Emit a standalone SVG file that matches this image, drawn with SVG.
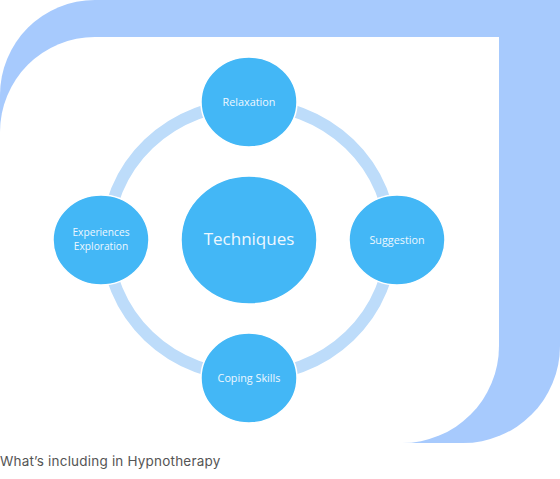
<svg xmlns="http://www.w3.org/2000/svg" width="560" height="479" viewBox="0 0 560 479">
<style>
.node{fill:#43b7f6;stroke:#ffffff;stroke-width:1.5}
.lbl{font-family:"Open Sans","Noto Sans",sans-serif;fill:#eef7ff;text-anchor:middle}
.s{font-size:10.8px}
.ring{fill:none;stroke:#bddcfa;stroke-width:12}
</style>
<g id="background">
<path d="M95,0 H560 V346 A97,97 0 0 1 463,443 H0 V95 A95,95 0 0 1 95,0 Z" fill="#a7cafd"/>
<path d="M95,37 H499 V346 A97,97 0 0 1 402,443 H0 V132 A95,95 0 0 1 95,37 Z" fill="#ffffff"/>
</g>
<g id="connectors">
<ellipse class="ring" cx="249" cy="240" rx="142" ry="136"/>
</g>
<g id="node-techniques">
<ellipse class="node" cx="249" cy="240" rx="68" ry="64"/>
<text class="lbl" x="249" y="245" font-size="17">Techniques</text>
</g>
<g id="node-relaxation">
<ellipse class="node" cx="249" cy="102" rx="48" ry="45"/>
<text class="lbl s" x="249" y="105.5">Relaxation</text>
</g>
<g id="node-suggestion">
<ellipse class="node" cx="397" cy="240" rx="48" ry="45"/>
<text class="lbl s" x="397" y="243.5">Suggestion</text>
</g>
<g id="node-coping">
<ellipse class="node" cx="249" cy="378" rx="48" ry="45"/>
<text class="lbl s" x="249" y="381.5">Coping Skills</text>
</g>
<g id="node-experiences">
<ellipse class="node" cx="101" cy="240" rx="48" ry="45"/>
<text class="lbl" font-size="10.2" x="101" y="236"><tspan x="101" y="236">Experiences</tspan><tspan x="101" y="250">Exploration</tspan></text>
</g>
<text x="0" y="466" font-family="Inter,'Liberation Sans',sans-serif" font-size="13.5" letter-spacing="0.2" fill="#555555">What’s including in Hypnotherapy</text>
</svg>
